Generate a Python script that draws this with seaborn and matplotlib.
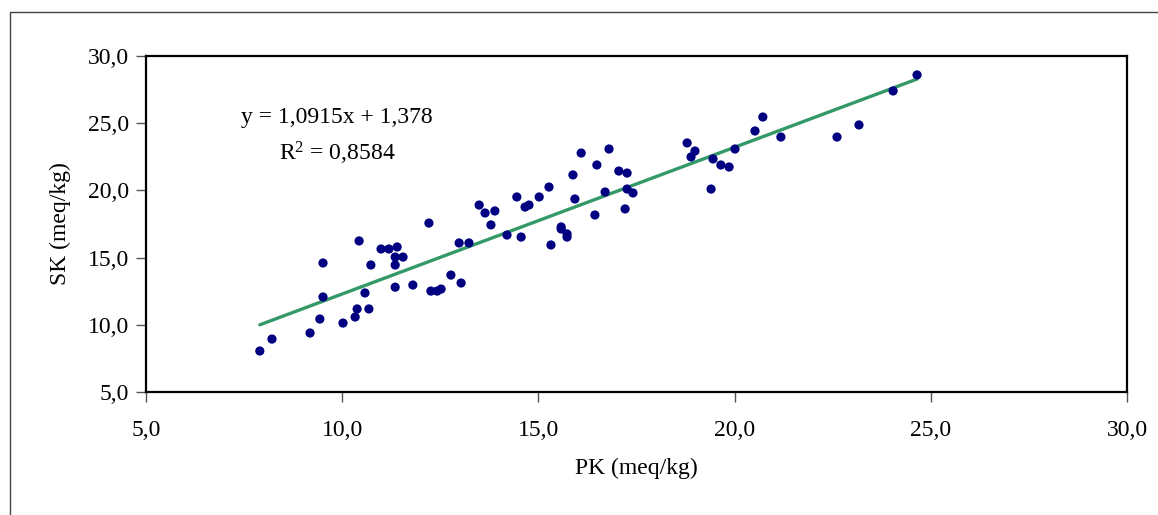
import numpy as np
import pandas as pd
import seaborn as sns
import matplotlib.pyplot as plt
from matplotlib.lines import Line2D

# Data
pk = [7.9, 8.21, 9.18, 9.43, 9.51, 9.51, 10.02, 10.33, 10.38, 10.43, 10.58, 10.68,
      10.73, 10.99, 11.19, 11.35, 11.35, 11.35, 11.4, 11.55, 11.8, 12.21, 12.26, 12.42,
      12.52, 12.77, 13.03, 12.98, 13.23, 13.49, 13.64, 13.89, 13.79, 14.2, 14.56, 14.45,
      14.66, 14.76, 15.02, 15.27, 15.32, 15.58, 15.58, 15.73, 15.73, 15.88, 15.93, 16.09,
      16.44, 16.49, 16.7, 16.8, 17.05, 17.26, 17.26, 17.21, 17.41, 18.79, 18.99, 18.89,
      19.4, 19.45, 19.65, 19.86, 20.01, 20.52, 20.72, 21.18, 22.61, 23.17, 24.04, 24.65]
sk = [8.05, 8.94, 9.39, 10.43, 12.07, 14.6, 10.13, 10.58, 11.18, 16.24, 12.37, 11.18,
      14.45, 15.64, 15.64, 12.8, 14.45, 15.04, 15.79, 15.04, 12.96, 17.57, 12.51, 12.51,
      12.66, 13.7, 13.11, 16.09, 16.09, 18.91, 18.32, 18.47, 17.43, 16.68, 16.53, 19.51,
      18.76, 18.91, 19.51, 20.25, 15.94, 17.28, 17.13, 16.76, 16.53, 21.15, 19.36, 22.78,
      18.17, 21.89, 19.88, 23.08, 21.44, 21.29, 20.1, 18.62, 19.81, 23.53, 22.93, 22.49,
      20.1, 22.34, 21.89, 21.74, 23.08, 24.42, 25.46, 23.97, 23.97, 24.87, 27.4, 28.59]
slope = 1.0915
intercept = 1.378
r2 = 0.8584
ticks = [5, 10, 15, 20, 25, 30]
tick_labels = ["5,0", "10,0", "15,0", "20,0", "25,0", "30,0"]

df = pd.DataFrame({"PK": pk, "SK": sk})
x_fit = np.array([min(pk), max(pk)])
fit = pd.DataFrame({"PK": x_fit, "SK": slope * x_fit + intercept})

sns.set_theme(style="white")
plt.rcParams["font.family"] = ["Liberation Serif", "DejaVu Serif"]
plt.rcParams["mathtext.fontset"] = "custom"
plt.rcParams["mathtext.rm"] = "Liberation Serif"
plt.rcParams["mathtext.default"] = "regular"
for k in ["text.color", "axes.labelcolor", "xtick.labelcolor", "ytick.labelcolor"]:
    plt.rcParams[k] = "black"

fig = plt.figure(figsize=(11.58, 5.15), dpi=100)
ax = fig.add_axes([0.1261, 0.2388, 0.8471, 0.6525])

sns.lineplot(data=fit, x="PK", y="SK", color="#339966", linewidth=2.4, ax=ax, zorder=2)
sns.scatterplot(data=df, x="PK", y="SK", color="#000080", s=44, edgecolor="none",
                ax=ax, zorder=3)

ax.set_xlim(5, 30)
ax.set_ylim(5, 30)
ax.set_xticks(ticks)
ax.set_xticklabels(tick_labels)
ax.set_yticks(ticks)
ax.set_yticklabels(tick_labels)
ax.tick_params(axis="both", direction="out", length=7, width=1, color="#555555",
               labelsize=17, labelcolor="black", pad=5, bottom=True, left=True)
ax.tick_params(axis="x", pad=13)
for sp in ax.spines.values():
    sp.set_color("black")
    sp.set_linewidth(1.6)

ax.set_xlabel("PK (meq/kg)", fontsize=17, labelpad=12)
ax.set_ylabel("SK (meq/kg)", fontsize=17, labelpad=12)

ax.text(0.194, 0.818, "y = 1,0915x + 1,378", transform=ax.transAxes,
        ha="center", va="center", fontsize=17)
ax.text(0.195, 0.711, "R$^{2}$ = " + f"{r2:.4f}".replace(".", ","), transform=ax.transAxes,
        ha="center", va="center", fontsize=17)

# outer chart frame (top and left edges visible)
fig.add_artist(Line2D([10 / 1158, 1.0], [1 - 12 / 515, 1 - 12 / 515],
                      transform=fig.transFigure, color="#444444", linewidth=1))
fig.add_artist(Line2D([10 / 1158, 10 / 1158], [0.0, 1 - 12 / 515],
                      transform=fig.transFigure, color="#444444", linewidth=1))

fig.savefig("out.png", dpi=100)
